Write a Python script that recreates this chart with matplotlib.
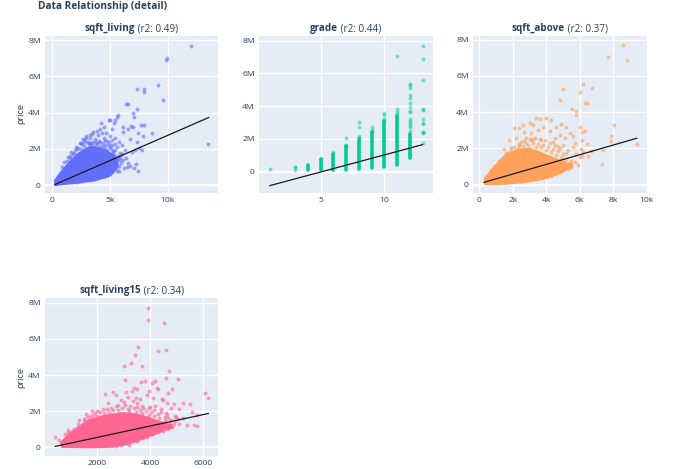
import matplotlib
matplotlib.use("Agg")
import matplotlib.pyplot as plt

plt.rcParams['font.family'] = ['Open Sans', 'DejaVu Sans']

BLUE = "#636EFA"
GREEN = "#00CC96"
ORANGE = "#FFA15A"
PINK = "#FF6692"
TEXT = "#2a3f5f"
BG = "#E5ECF6"

# sqft_living (k sqft, price in M)
living_core_x = [0.28, 0.7, 1.15, 1.7, 2.3, 2.8, 3.2, 3.7, 4.2, 4.6, 4.9, 5.3, 5.6]
living_core_low = [0.04, 0.08, 0.11, 0.15, 0.19, 0.24, 0.27, 0.31, 0.42, 0.48, 0.55, 0.8, 1.1]
living_core_high = [0.27, 0.65, 1.0, 1.4, 1.75, 1.95, 2.1, 2.1, 2.0, 1.93, 1.8, 1.62, 1.48]
living_x = [11.98, 9.97, 9.83, 9.14, 9.6, 13.48, 7.36, 7.96, 7.99, 7.39, 6.38, 6.6, 7.04, 7.07, 5.75,
            5.66, 5.46, 5.35, 4.9, 5.03, 5.2, 4.25, 4.2, 4.5, 4.7, 3.9, 3.6, 3.3, 3.0, 2.8,
            2.5, 2.2, 1.9, 1.6, 6.18, 6.18, 6.6, 6.8, 7.04, 7.7, 8.0, 8.65, 7.85, 7.47, 6.75,
            7.33, 7.56, 7.76, 7.18, 6.9, 6.6, 7.27, 7.1, 7.47, 6.75, 6.18, 5.9, 5.5, 5.8, 6.1,
            6.3, 5.6, 5.9, 5.2, 5.5, 5.0, 4.8, 4.5, 4.2, 3.9, 3.6, 3.2, 4.4, 4.9, 5.1, 5.3,
            5.7, 6.0, 6.4, 6.5, 5.6, 5.3, 4.6, 4.3, 4.0, 3.4, 3.1, 2.7, 2.4, 2.1, 5.8, 6.2]
living_y = [7.68, 7.04, 6.88, 5.55, 4.67, 2.28, 5.3, 5.33, 5.11, 4.19, 4.49, 4.49, 3.99, 3.77, 3.85,
            3.77, 3.58, 3.45, 3.6, 3.6, 3.1, 3.4, 3.1, 3.2, 2.9, 3.0, 2.95, 2.75, 2.6, 2.5,
            2.3, 2.0, 1.75, 1.5, 3.2, 2.94, 3.1, 3.25, 3.18, 3.29, 3.29, 2.88, 2.7, 2.85, 2.52,
            2.39, 2.02, 1.93, 1.93, 1.84, 1.2, 1.16, 0.92, 0.79, 1.07, 1.38, 1.56, 2.6, 2.4, 2.2,
            1.95, 2.1, 1.75, 2.5, 2.25, 2.7, 2.45, 2.6, 2.35, 2.3, 2.4, 2.25, 2.15, 2.2, 2.0, 1.85,
            1.45, 1.2, 1.5, 1.0, 1.0, 0.85, 0.65, 0.55, 0.48, 0.38, 0.32, 0.28, 0.24, 0.2, 0.75, 0.95]
living_edge_x = [0.9, 1.1, 1.3, 1.4, 1.6, 1.7, 1.8, 2.0, 2.1, 2.3, 2.4, 2.6, 2.7, 2.9, 3.0, 3.1, 3.3, 3.4,
                 3.5, 3.7, 3.8, 4.0, 4.1, 4.3, 4.4, 4.6, 4.7, 4.9, 5.0, 5.2, 5.3, 5.5, 2.5, 2.8, 3.2, 3.5,
                 3.8, 4.2, 4.5, 4.8, 5.1, 5.4, 5.7, 5.9, 6.1, 5.0, 5.2, 5.4, 5.6, 5.8, 4.8, 4.6, 4.4, 4.2,
                 3.9, 3.6, 3.3, 3.0, 2.6, 2.2, 1.8, 1.4]
living_edge_y = [1.0, 1.25, 1.3, 1.55, 1.6, 1.8, 1.7, 1.95, 2.1, 2.05, 2.3, 2.25, 2.55, 2.4, 2.7, 2.35, 2.6, 2.3,
                 2.8, 2.55, 2.2, 2.75, 2.45, 2.85, 2.3, 2.5, 2.2, 2.35, 2.1, 2.2, 1.9, 1.95, 2.0, 2.15, 2.3, 2.2,
                 2.35, 2.15, 2.05, 1.95, 1.7, 1.65, 1.6, 1.4, 1.7, 0.62, 0.72, 0.9, 0.8, 1.05, 0.58, 0.52, 0.5, 0.44,
                 0.38, 0.34, 0.3, 0.27, 0.23, 0.19, 0.17, 0.14]

# grade
grade_values = [4, 5, 6, 7, 8, 9, 10, 11, 12]
grade_low = [0.09, 0.09, 0.09, 0.1, 0.14, 0.22, 0.3, 0.42, 0.85]
grade_high = [0.42, 0.75, 1.1, 1.55, 2.0, 2.45, 3.1, 3.42, 2.3]
grade_x = [1, 3, 3, 3, 5, 6, 7, 7, 7, 8, 8, 8, 8, 9, 9, 9, 10, 10, 10, 10, 11, 11, 11,
           11, 12, 12, 12, 12, 12, 12, 12, 12, 12, 12, 12, 12, 12, 12, 12, 12, 13, 13, 13,
           13, 13, 13, 13, 13, 13, 13, 13, 13]
grade_y = [0.14, 0.3, 0.26, 0.08, 0.8, 1.2, 2.05, 1.65, 1.55, 3.05, 2.7, 2.2, 2.05, 2.7, 2.55, 2.45,
           3.6, 3.45, 3.2, 3.1, 7.04, 3.85, 3.65, 3.5, 5.35, 5.3, 5.1, 4.65, 4.5, 4.2, 3.95,
           3.7, 3.65, 3.2, 3.1, 3.0, 2.85, 2.7, 2.5, 1.0, 7.7, 6.89, 5.57, 3.8, 3.78, 3.2, 3.0,
           2.9, 2.45, 2.4, 2.35, 1.78]

# sqft_above (k sqft, price in M)
above_core_x = [0.32, 0.82, 1.2, 1.61, 2.2, 3.0, 3.4, 3.8, 4.2, 4.6, 5.2, 5.5]
above_core_low = [0.08, 0.08, 0.09, 0.1, 0.15, 0.24, 0.3, 0.38, 0.48, 0.62, 0.91, 1.05]
above_core_high = [0.36, 0.91, 1.3, 1.65, 1.92, 2.0, 1.85, 1.7, 1.55, 1.4, 1.2, 1.15]
above_x = [8.57, 7.67, 8.84, 6.17, 6.71, 5.0, 6.0, 4.8, 5.54, 5.78, 5.78, 6.31, 6.41, 8.03, 7.85,
           7.89, 9.42, 7.31, 7.41, 6.67, 6.51, 6.12, 6.02, 6.21, 6.41, 6.12, 6.12, 6.31, 6.02, 5.6,
           5.2, 4.9, 4.6, 4.3, 4.0, 3.6, 3.4, 3.2, 3.0, 2.6, 2.4, 2.1, 1.8, 1.5, 2.2, 2.7, 3.1,
           3.5, 3.8, 4.2, 4.5, 4.8, 5.1, 5.4, 5.7, 4.4, 4.7, 5.0, 5.3, 5.6, 5.8, 6.1, 5.9, 5.4,
           5.1, 4.9, 4.6, 4.4, 4.1, 3.8, 3.4, 3.0, 2.5, 2.2, 3.7, 3.2, 2.8, 2.4, 1.2, 1.6, 1.9]
above_y = [7.69, 7.04, 6.88, 5.57, 5.33, 5.27, 5.1, 4.66, 4.18, 4.04, 3.83, 4.5, 4.5, 3.3, 2.69,
           2.4, 2.25, 1.12, 1.92, 1.88, 1.58, 1.58, 1.55, 1.82, 2.25, 2.47, 2.89, 2.97, 3.17, 2.7,
           3.2, 3.35, 3.2, 3.55, 3.65, 3.6, 3.7, 3.3, 3.4, 3.3, 3.15, 3.15, 2.45, 1.95, 2.6, 2.9, 2.85,
           3.0, 3.2, 2.95, 2.6, 2.75, 2.6, 2.85, 2.3, 2.35, 2.1, 2.2, 1.9, 2.05, 1.7, 1.95, 1.1, 0.95,
           1.2, 0.8, 0.7, 0.62, 0.52, 0.42, 0.36, 0.3, 0.22, 0.2, 2.45, 2.5, 2.55, 2.2, 1.3, 1.75, 2.0]
above_edge_x = [0.7, 0.9, 1.1, 1.3, 1.4, 1.6, 1.8, 1.9, 2.1, 2.3, 2.4, 2.6, 2.7, 2.9, 3.0, 3.2, 3.3, 3.5, 3.6,
                3.8, 3.9, 4.1, 4.2, 4.4, 4.5, 4.7, 4.8, 5.0, 5.2, 2.5, 2.8, 3.1, 3.4, 3.7, 4.0, 4.3, 4.6, 4.9,
                5.2, 5.5, 5.7, 5.3, 5.5, 5.0, 4.8, 4.6, 4.3, 4.0, 3.7, 3.4, 3.1]
above_edge_y = [0.8, 1.05, 1.2, 1.35, 1.55, 1.7, 1.8, 2.0, 2.1, 2.0, 2.25, 2.15, 2.4, 2.2, 2.5, 2.3, 2.6, 2.25, 2.5,
                2.2, 2.45, 2.1, 2.3, 1.95, 2.2, 1.85, 2.0, 1.7, 1.75, 2.35, 2.3, 2.45, 2.1, 2.05, 1.9, 1.8, 1.65, 1.5,
                1.4, 1.3, 1.25, 0.85, 1.0, 0.8, 0.72, 0.62, 0.5, 0.42, 0.36, 0.3, 0.26]

# sqft_living15 (sqft, price in M)
living15_core_x = [640, 820, 1020, 1300, 1650, 2160, 2540, 2920, 3300, 3550, 3900, 4180, 4500, 4820]
living15_core_low = [0.07, 0.07, 0.06, 0.06, 0.05, 0.06, 0.08, 0.18, 0.31, 0.45, 0.64, 0.8, 1.0, 1.15]
living15_core_high = [0.31, 0.6, 0.87, 1.15, 1.5, 1.72, 1.82, 1.9, 1.85, 1.8, 1.65, 1.5, 1.35, 1.22]
living15_x = [3924, 3911, 4532, 3557, 4316, 4595, 3430, 3266, 3025, 3709, 4734, 5063, 4608, 6101, 6203,
              400, 550, 620, 760, 900, 1300, 1550, 1600, 1800, 2000, 2280, 2400, 2600, 2700, 3100, 3040,
              2900, 3180, 3300, 3400, 3520, 3640, 3800, 3960, 4060, 4180, 4250, 4320, 4450, 4700, 4850,
              4920, 5100, 5240, 5500, 5600, 5780, 5800, 5260, 5100, 4950, 4800, 4650, 4500, 4400, 3000,
              2800, 2500, 2200, 1900, 1700, 1500, 3700, 3500, 4200, 4600, 4700, 5000, 5400, 5650, 3340,
              3450, 3600, 3880, 4100, 4000, 3200]
living15_y = [7.69, 7.06, 6.88, 5.57, 5.31, 5.36, 5.11, 4.66, 4.5, 4.5, 4.22, 3.8, 3.85, 2.99, 2.71,
              0.55, 0.42, 0.25, 0.75, 0.95, 1.5, 1.85, 1.7, 2.0, 2.0, 2.95, 2.45, 3.05, 2.9, 3.05, 3.75,
              2.6, 2.8, 3.1, 3.3, 3.2, 3.6, 3.65, 3.1, 3.55, 3.65, 3.3, 3.25, 2.7, 3.0, 3.2,
              2.4, 2.1, 2.45, 2.4, 1.95, 1.8, 1.2, 1.6, 1.3, 1.75, 2.15, 2.45, 2.6, 2.1, 2.5,
              2.35, 2.2, 2.1, 1.9, 1.75, 1.5, 2.3, 2.45, 2.3, 1.9, 1.6, 1.65, 1.25, 1.25, 2.55,
              2.75, 2.65, 2.9, 2.75, 2.25, 0.15]
living15_edge_x = [900, 1100, 1250, 1400, 1500, 1750, 1850, 2000, 2100, 2250, 2350, 2450, 2600, 2700, 2800, 2950,
                   3050, 3150, 3250, 3400, 3500, 3600, 3750, 3850, 3950, 4050, 4150, 4300, 4400, 4550, 4650, 4800,
                   4950, 5050, 3200, 3450, 3700, 3950, 4150, 4350, 4550, 4750, 4900, 3500, 3700, 3900, 4100, 4300,
                   4500, 4700, 4850, 3100, 2900, 2700]
living15_edge_y = [0.85, 1.0, 1.3, 1.25, 1.55, 1.55, 1.8, 1.75, 1.95, 1.9, 2.1, 1.95, 2.05, 2.3, 2.05, 2.2,
                   2.35, 2.1, 2.3, 2.15, 2.25, 2.05, 2.2, 2.0, 2.15, 1.95, 2.05, 1.85, 1.95, 1.65, 1.8, 1.5,
                   1.45, 1.55, 2.0, 1.95, 1.9, 1.8, 1.75, 1.6, 1.5, 1.35, 1.3, 0.35, 0.5, 0.58, 0.72, 0.85,
                   0.9, 1.02, 1.1, 0.22, 0.15, 0.1]

# fitted lines
living_fit_x = [0.29, 13.54]
living_fit_y = [0.03, 3.73]
grade_fit_x = [1, 13]
grade_fit_y = [-0.85, 1.65]
above_fit_x = [0.29, 9.41]
above_fit_y = [0.13, 2.56]
living15_fit_x = [400, 6210]
living15_fit_y = [0.05, 1.87]

price_ticks = [0, 2, 4, 6, 8]
price_labels = ["0", "2M", "4M", "6M", "8M"]


def make_axes(left, top, right, bottom):
    ax = fig.add_axes([left / 690, 1 - bottom / 469, (right - left) / 690, (bottom - top) / 469])
    ax.set_facecolor(BG)
    for spine in ax.spines.values():
        spine.set_visible(False)
    ax.grid(True, color="white", linewidth=1)
    ax.set_axisbelow(True)
    ax.tick_params(length=0, labelsize=6.1, labelcolor=TEXT, pad=3)
    ax.set_yticks(price_ticks)
    ax.set_yticklabels(price_labels)
    ax.axhline(0, color="white", linewidth=1.6, zorder=0.9)
    return ax


def panel_title(ax, bold, rest):
    # bold name plus plain r2, centred together over the axes
    renderer = fig.canvas.get_renderer()
    t1 = ax.text(0.5, 1.012, bold, transform=ax.transAxes, fontsize=7.1, fontweight="bold", color=TEXT, ha="left", va="bottom")
    t2 = ax.text(0.5, 1.012, rest, transform=ax.transAxes, fontsize=7.1, color=TEXT, ha="left", va="bottom")
    w1 = t1.get_window_extent(renderer).width / ax.bbox.width
    w2 = t2.get_window_extent(renderer).width / ax.bbox.width
    start = 0.5 - (w1 + w2) / 2
    t1.set_x(start)
    t2.set_x(start + w1)


def cloud(ax, core_x, core_low, core_high, x, y, fit_x, fit_y, color):
    ax.fill_between(core_x, core_low, core_high, color=color, linewidth=2, zorder=2)
    ax.scatter(x, y, s=8, color=color, alpha=0.6, linewidths=0, zorder=3)
    ax.plot(fit_x, fit_y, color="#1a1a1a", linewidth=0.9, zorder=4)


fig = plt.figure(figsize=(6.9, 4.69), dpi=100)

ax1 = make_axes(45, 36, 218, 193)
cloud(ax1, living_core_x, living_core_low, living_core_high, living_x + living_edge_x, living_y + living_edge_y, living_fit_x, living_fit_y, BLUE)
ax1.set_xticks([0, 5, 10])
ax1.set_xticklabels(["0", "5k", "10k"])
ax1.set_xlim(-0.578, 14.34)
ax1.set_ylim(-0.44, 8.23)
panel_title(ax1, "sqft_living", " (r2: 0.49)")

ax2 = make_axes(259, 36, 433, 193)
ax2.vlines(grade_values, grade_low, grade_high, color=GREEN, linewidth=2.6, capstyle="round", zorder=2)
ax2.scatter(grade_x, grade_y, s=8, color=GREEN, alpha=0.5, linewidths=0, zorder=3)
ax2.plot(grade_fit_x, grade_fit_y, color="#1a1a1a", linewidth=0.9, zorder=4)
ax2.set_xticks([5, 10])
ax2.set_xticklabels(["5", "10"])
ax2.set_xlim(0.15, 13.82)
ax2.set_ylim(-1.3, 8.28)
panel_title(ax2, "grade", " (r2: 0.44)")

ax3 = make_axes(473, 36, 647, 193)
cloud(ax3, above_core_x, above_core_low, above_core_high, above_x + above_edge_x, above_y + above_edge_y, above_fit_x, above_fit_y, ORANGE)
ax3.set_xticks([0, 2, 4, 6, 8, 10])
ax3.set_xticklabels(["0", "2k", "4k", "6k", "8k", "10k"])
ax3.set_xlim(-0.376, 10.02)
ax3.set_ylim(-0.46, 8.2)
panel_title(ax3, "sqft_above", " (r2: 0.37)")

ax4 = make_axes(45, 298, 218, 456)
cloud(ax4, living15_core_x, living15_core_low, living15_core_high, living15_x + living15_edge_x, living15_y + living15_edge_y, living15_fit_x, living15_fit_y, PINK)
ax4.set_xticks([0, 2000, 4000, 6000])
ax4.set_xticklabels(["0", "2000", "4000", "6000"])
ax4.set_xlim(10, 6580)
ax4.set_ylim(-0.48, 8.26)
panel_title(ax4, "sqft_living15", " (r2: 0.34)")

fig.text(21 / 690, 1 - 114 / 469, "price", rotation=90, fontsize=6.6, color=TEXT, ha="center", va="center")
fig.text(21 / 690, 1 - 377 / 469, "price", rotation=90, fontsize=6.6, color=TEXT, ha="center", va="center")
fig.text(38 / 690, 1 - 7 / 469, "Data Relationship (detail)", fontsize=7.3, fontweight="bold", color=TEXT, ha="left", va="center")

fig.savefig("out.png", dpi=100)
